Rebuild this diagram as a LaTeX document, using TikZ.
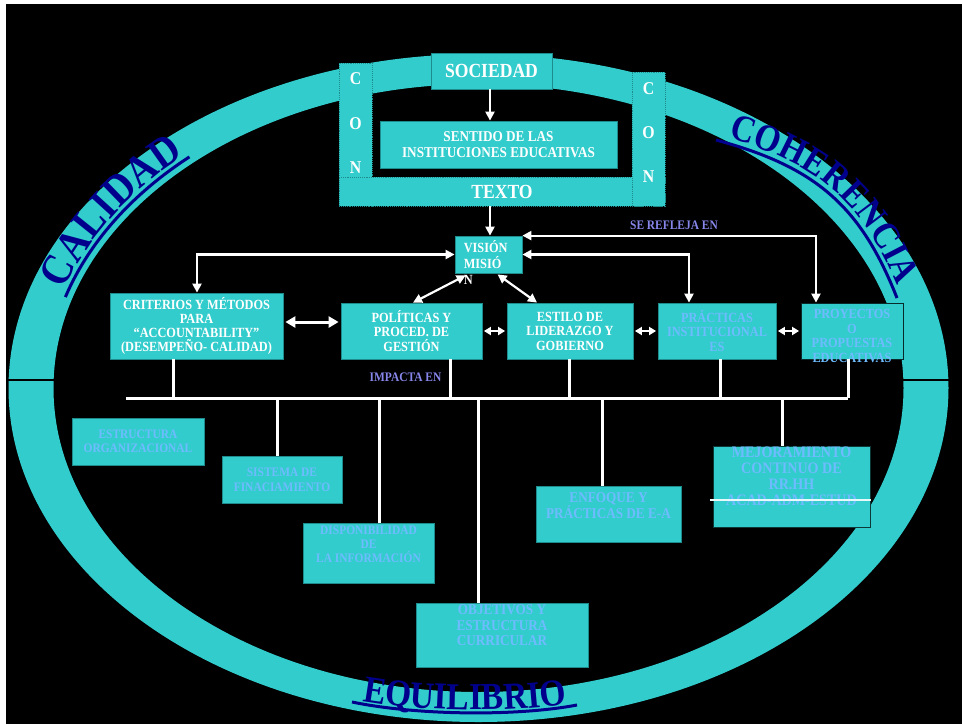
\documentclass[tikz,border=0pt]{standalone}
\usepackage{fontspec}
\setmainfont{Liberation Serif}[FakeStretch=0.88]
\usetikzlibrary{arrows.meta,calc,decorations.text}
\definecolor{cy}{RGB}{51,204,204}
\definecolor{cyd}{RGB}{30,140,140}
\definecolor{lb}{RGB}{110,188,255}
\definecolor{navyW}{RGB}{0,0,140}
\definecolor{peri}{RGB}{135,135,235}
\newcommand\fs[2]{\fontsize{#1}{#2}\selectfont}
\newcommand\calf{\bfseries\fs{44}{44}\color{navyW}}
\newcommand\cohf{\bfseries\fs{38}{38}\color{navyW}}
\newcommand\equf{\bfseries\fs{38}{38}\color{navyW}}
\begin{document}
\begin{tikzpicture}[x=1pt,y=-1pt,
  box/.style={fill=cy, draw=cyd, line width=0.8pt, inner sep=0pt, align=center},
  conbox/.style={fill=cy, draw=cyd, densely dotted, line width=0.9pt, inner sep=0pt},
  sz/.style 2 args={minimum width=#1pt, minimum height=#2pt},
  f/.style 2 args={font=\bfseries\fs{#1}{#2}},
  contxt/.style={text=white, font=\bfseries\fs{18}{44.5}, align=center, inner sep=0pt},
  wt/.style={text=white},
  bt/.style={text=lb},
  lab/.style={text=peri, font=\bfseries\fs{13}{13}, inner sep=0pt},
  arrW/.style={draw=white, line width=2.2pt, -{Triangle[length=9pt,width=9pt]}},
  arrWW/.style={draw=white, line width=2.2pt, {Triangle[length=9pt,width=9pt]}-{Triangle[length=9pt,width=9pt]}},
  arrBig/.style={draw=white, line width=3pt, {Triangle[length=10pt,width=11pt]}-{Triangle[length=10pt,width=11pt]}, shorten <=2pt, shorten >=2pt},
  arrSm/.style={draw=white, line width=2.2pt, {Triangle[length=7pt,width=8pt]}-{Triangle[length=7pt,width=8pt]}, shorten <=1.5pt, shorten >=1.5pt},
  bus/.style={draw=white, line width=3pt},
  uline/.style={draw=navyW, line width=3pt}
]
\useasboundingbox (0,0) rectangle (962,724);
\fill[white] (0,0) rectangle (962,724);
\fill[black] (6,4) rectangle (962,724);
% ring
\fill[cy, even odd rule] (478.5,388) ellipse [x radius=470, y radius=334] (478.5,388) ellipse [x radius=425, y radius=304];
\draw[black, line width=1.5pt] (6,380) -- (70,380) (885,380) -- (962,380);
% big words
\draw[uline] (478.5,388) ++(-163:432 and 311) arc[start angle=-163, end angle=-132, x radius=432, y radius=311];
\path[decorate, decoration={text along path, text align=center, raise=4pt, text={|\calf|CALIDAD}}]
  (478.5,388) ++(-188:432 and 311) arc[start angle=-188, end angle=-112, x radius=432, y radius=311];
\draw[uline] (716,140) .. controls (815.7,166.7) and (860.9,206.2) .. (897,298);
\path[decorate, decoration={text along path, text align=center, raise=5pt, text={|\cohf|COHERENCIA}}]
  (677.4,129.6) -- (716,140) .. controls (815.7,166.7) and (860.9,206.2) .. (897,298) -- (911.6,335.2);
\draw[uline] (352,702) .. controls (420,716) and (520,716) .. (577,705);
\path[decorate, decoration={text along path, text align=center, raise=3pt, text={|\equf|EQUILIBRIO}}]
  (332.5,697.4) -- (352,702) .. controls (420,716) and (520,716) .. (577,705) -- (596.7,701.5);
% CON-TEXTO frame
\node[conbox, sz={33}{143}, label={[contxt, yshift=11pt]center:C\\O\\N}] (conL) at (355.5,134.5) {};
\node[conbox, sz={326}{29}, wt, f={20}{20}] (texto) at (502,191.5) {TEXTO};
\node[conbox, sz={33}{134}, label={[contxt, font=\bfseries\fs{18}{44}, yshift=6pt]center:C\\O\\N}] (conR) at (648.5,139) {};
\node[box, sz={121}{36}, wt, f={20}{20}] (soc) at (491.5,71) {SOCIEDAD};
\node[box, sz={237}{47}, wt, f={15}{16}] (sent) at (498.5,144.5) {SENTIDO DE LAS\\INSTITUCIONES EDUCATIVAS};
% middle row
\node[box, sz={67}{37}, label={[wt, f={14}{16}, align=left, anchor=north west, inner sep=0pt, xshift=9pt, yshift=-4.5pt]north west:VISIÓN\\MISIÓ\\N}] (vis) at (488.5,254.5) {};
\node[box, sz={173}{66}, wt, f={14}{14.2}] (crit) at (196.5,326) {CRITERIOS Y MÉTODOS\\PARA\\“ACCOUNTABILITY”\\(DESEMPEÑO- CALIDAD)};
\node[box, sz={141}{56}, wt, f={14}{14.5}] (pol) at (411.5,331) {POLÍTICAS Y\\PROCED. DE\\GESTIÓN};
\node[box, sz={126}{56}, wt, f={14}{14.5}] (est) at (570,331) {ESTILO DE\\LIDERAZGO Y\\GOBIERNO};
\node[box, sz={118}{56}, bt, f={14}{14.5}] (prac) at (717,331) {PRÁCTICAS\\INSTITUCIONAL\\ES};
\node[box, draw=black!70!cyd, sz={102}{56}, label={[bt, f={14}{14.6}, align=center, inner sep=0pt, yshift=-5pt]center:PROYECTOS\\O\\PROPUESTAS\\EDUCATIVAS}] (proy) at (852,331) {};
% bottom boxes
\node[box, sz={132}{47}, bt, f={13}{14}] (estr) at (138,441.5) {ESTRUCTURA\\ORGANIZACIONAL};
\node[box, sz={120}{47}, bt, f={13}{14.7}] (sis) at (282,479.5) {SISTEMA DE\\FINACIAMIENTO};
\node[box, sz={131}{60}, bt, f={13}{14.3}] (disp) at (368.5,553) {DISPONIBILIDAD\\DE\\LA INFORMACIÓN\\[3pt]};
\node[box, sz={172}{64}, bt, f={15}{15.7}] (obj) at (502,635) {OBJETIVOS Y\\ESTRUCTURA\\CURRICULAR\\[4pt]};
\node[box, sz={145}{56}, bt, f={15}{16}] (enf) at (608.5,514) {ENFOQUE Y\\PRÁCTICAS DE E-A\\ };
\node[box, draw=black!60!cyd, sz={157}{80}, bt, f={16}{16}] (mej) at (791.5,487) {MEJORAMIENTO\\CONTINUO DE\\RR.HH\\ACAD-ADM-ESTUD\\[6pt]};
\draw[white!88!cy, line width=2.5pt] ($(mej.west)+(-3,13)$) -- ($(mej.east)+(1,13)$);
% labels
\node[lab] (refl) at (674,225) {SE REFLEJA EN};
\node[lab] (imp) at (405.5,377) {IMPACTA EN};
% arrows top
\draw[arrW] (soc.south -| 490,0) -- (sent.north -| 490,0);
\draw[arrW] (texto.south -| 490,0) -- (vis.north -| 490,0);
\draw[arrWW] (crit.north -| 197,0) |- (vis.west);
\draw[arrWW] (proy.north -| 816,0) |- (vis.north east);
\draw[arrWW] (prac.north -| 689,0) |- (vis.east);
\draw[arrWW] ($(vis.south west)+(11,2)$) -- (pol.north -| 413,0);
\draw[arrWW] ($(vis.south west)+(43,1)$) -- (est.north -| 537,0);
\draw[arrBig] (crit.east |- 0,322) -- (pol.west |- 0,322);
\draw[arrSm] (pol.east) -- (est.west);
\draw[arrSm] (est.east) -- (prac.west);
\draw[arrSm] (prac.east) -- (proy.west);
% bus
\coordinate (busL) at (126,398);
\coordinate (busR) at (848,398);
\draw[bus] (busL) -- (busR);
\draw[bus] (crit.south -| 173,0) -- (173,0 |- busL);
\draw[bus] (pol.south -| 450,0) -- (450,0 |- busL);
\draw[bus] (est.south -| 569,0) -- (569,0 |- busL);
\draw[bus] (prac.south -| 720,0) -- (720,0 |- busL);
\draw[bus] (proy.south -| 848,0) -- (busR);
\draw[bus] (277,0 |- busL) -- (sis.north -| 277,0);
\draw[bus] (379,0 |- busL) -- (disp.north -| 379,0);
\draw[bus] (478,0 |- busL) -- (obj.north -| 478,0);
\draw[bus] (602,0 |- busL) -- (enf.north -| 602,0);
\draw[bus] (782,0 |- busL) -- (mej.north -| 782,0);
\end{tikzpicture}
\end{document}
